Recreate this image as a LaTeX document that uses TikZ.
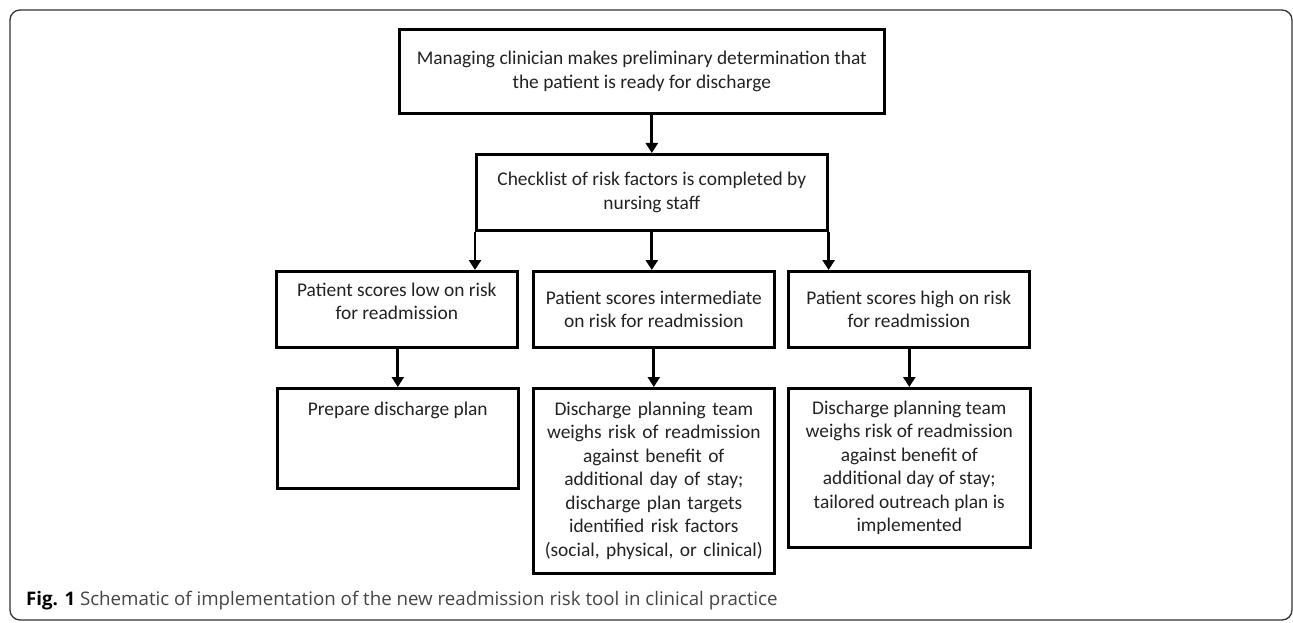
\documentclass[tikz,border=0pt]{standalone}
\usepackage{fontspec}
\setmainfont{Carlito}
\newfontfamily\capfont{Open Sans}
\usetikzlibrary{arrows.meta}
\definecolor{txt}{HTML}{222222}
\definecolor{captxt}{HTML}{444444}
\definecolor{frame}{HTML}{333333}
\newcommand{\twolines}[2]{\begin{tabular}{@{}c@{}}#1\\#2\end{tabular}}
\begin{document}
\begin{tikzpicture}[x=1pt,y=-1pt,
  stepbox/.style={draw=black, line width=2.6pt, inner sep=0pt, align=center,
    text=txt, font=\fontsize{19.4}{23.5}\selectfont, anchor=north west},
  flow/.style={line width=2.8pt, -{Triangle[width=12pt,length=10pt]}}]
\useasboundingbox (0,0) rectangle (1293,623);
\draw[frame, line width=1.3pt, rounded corners=10pt] (10,10) rectangle (1292,620);
% boxes
\node[stepbox, minimum width=485pt, minimum height=84pt] (top) at (398,28)
  {Managing clinician makes preliminary determination that\\the patient is ready for discharge};
\node[stepbox, minimum width=351pt, minimum height=76pt] (check) at (475,153)
  {Checklist of risk factors is completed by\\nursing staff};
\node[stepbox, minimum width=241pt, minimum height=76pt] (low) at (275,270)
  {\raisebox{6pt}[\height][\depth]{\twolines{Patient scores low on risk}{for readmission}}};
\node[stepbox, minimum width=241pt, minimum height=76pt] (mid) at (532,270)
  {Patient scores intermediate\\on risk for readmission};
\node[stepbox, minimum width=241pt, minimum height=76pt] (high) at (787,270)
  {Patient scores high on risk\\for readmission};
\node[stepbox, minimum width=241pt, minimum height=100pt] (prep) at (276,387)
  {\raisebox{28pt}[\height][\depth]{Prepare discharge plan}};
\node[stepbox, minimum width=241pt, minimum height=185pt, text width=241pt] (midplan) at (532,387)
  {Discharge planning team\\weighs risk of readmission\\against benefit of\\additional day of stay;\\discharge plan targets\\identified risk factors\\(social, physical, or clinical)};
\node[stepbox, minimum width=242pt, minimum height=159pt] (highplan) at (787,387)
  {Discharge planning team\\weighs risk of readmission\\against benefit of\\additional day of stay;\\tailored outreach plan is\\implemented};
% connectors
\draw[flow] (top.south -| check.north) -- (check.north);
\draw[flow] (check.south west) -- (check.south west |- low.north);
\draw[flow] (check.south) -- (check.south |- mid.north);
\draw[flow] (check.south east) -- (check.south east |- high.north);
\draw[flow] (low.south -| prep.north) -- (prep.north);
\draw[flow] (mid.south) -- (midplan.north);
\draw[flow] (high.south -| highplan.north) -- (highplan.north);
% caption
\node[anchor=base west, inner sep=0pt, font=\capfont\fontsize{18.7}{22}\selectfont, text=captxt] (cap) at (26,605)
  {\textcolor{black}{\bfseries Fig. 1} Schematic of implementation of the new readmission risk tool in clinical practice};
\end{tikzpicture}
\end{document}
